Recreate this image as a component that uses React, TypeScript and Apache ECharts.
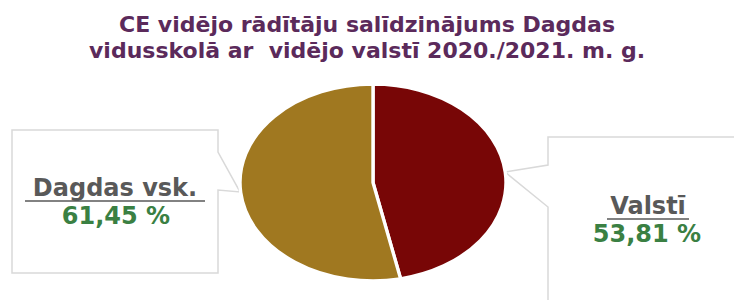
import React, { useEffect, useRef } from "react";
import * as echarts from "echarts";

const categories = ["Valstī", "Dagdas vsk."];
const values = [53.81, 61.45];
const sliceColors = ["#780606", "#A07820"];
const titleLines = [
  "CE vidējo rādītāju salīdzinājums Dagdas",
  "vidusskolā ar  vidējo valstī 2020./2021. m. g.",
];

const fmt = (v: number) => v.toFixed(2).replace(".", ",") + " %";

export default function App() {
  const ref = useRef<HTMLDivElement>(null);
  useEffect(() => {
    if (!ref.current) return;
    const chart = echarts.init(ref.current, undefined, { renderer: "svg" });
    const total = values.reduce((a, b) => a + b, 0);
    const cx = 373;
    const cy = 182.5;
    const ry = 98;
    const rx = 133;
    const font = "DejaVu Sans";
    chart.setOption({
      animation: false,
      backgroundColor: "#ffffff",
      title: {
        text: titleLines.join("\n"),
        left: "center",
        top: 6,
        textStyle: {
          color: "#5B2A5B",
          fontFamily: font,
          fontWeight: "bold",
          fontSize: 22,
          lineHeight: 26,
        },
      },
      graphic: [
        {
          type: "polygon",
          z: 1,
          shape: {
            points: [
              [12, 130], [218, 130], [218, 152], [240, 192], [218, 190], [218, 273], [12, 273],
            ],
          },
          style: { fill: "#ffffff", stroke: "#d9d9d9", lineWidth: 1.5 },
        },
        {
          type: "polygon",
          z: 1,
          shape: {
            points: [
              [548, 137], [740, 137], [740, 310], [548, 310], [548, 207], [505, 172], [548, 165],
            ],
          },
          style: { fill: "#ffffff", stroke: "#d9d9d9", lineWidth: 1.5 },
        },
        {
          type: "text",
          z: 5,
          x: 115,
          y: 188,
          style: {
            text: categories[1],
            fill: "#595959",
            font: `bold 24px "${font}"`,
            align: "center",
            verticalAlign: "middle",
          },
        },
        {
          type: "line",
          z: 5,
          shape: { x1: 25, y1: 201, x2: 205, y2: 201 },
          style: { stroke: "#595959", lineWidth: 1.5 },
        },
        {
          type: "text",
          z: 5,
          x: 116,
          y: 216,
          style: {
            text: fmt(values[1]),
            fill: "#3A8043",
            font: `bold 24px "${font}"`,
            align: "center",
            verticalAlign: "middle",
          },
        },
        {
          type: "text",
          z: 5,
          x: 648,
          y: 206,
          style: {
            text: categories[0],
            fill: "#595959",
            font: `bold 24px "${font}"`,
            align: "center",
            verticalAlign: "middle",
          },
        },
        {
          type: "line",
          z: 5,
          shape: { x1: 607, y1: 219, x2: 689, y2: 219 },
          style: { stroke: "#595959", lineWidth: 1.5 },
        },
        {
          type: "text",
          z: 5,
          x: 647,
          y: 234,
          style: {
            text: fmt(values[0]),
            fill: "#3A8043",
            font: `bold 24px "${font}"`,
            align: "center",
            verticalAlign: "middle",
          },
        },
      ],
      series: [
        {
          type: "custom",
          coordinateSystem: "none",
          z: 3,
          data: categories.map((c, i) => ({ name: c, value: [values[i]] })),
          renderItem: (params: any, api: any) => {
            const idx = params.dataIndex;
            let before = 0;
            for (let i = 0; i < idx; i++) before += values[i];
            const start = -Math.PI / 2 + (before / total) * Math.PI * 2;
            const end = start + (api.value(0) / total) * Math.PI * 2;
            return {
              type: "group",
              x: cx,
              y: cy,
              scaleX: rx / ry,
              scaleY: 1,
              children: [
                {
                  type: "sector",
                  shape: { cx: 0, cy: 0, r0: 0, r: ry, startAngle: start, endAngle: end, clockwise: true },
                  style: {
                    fill: sliceColors[idx],
                    stroke: "#ffffff",
                    lineWidth: 2.5,
                    strokeNoScale: true,
                  },
                },
              ],
            };
          },
        },
      ],
    });
    return () => chart.dispose();
  }, []);
  return (
    <div
      ref={ref}
      style={{ position: "fixed", left: 0, top: 0, width: 734, height: 300 }}
    />
  );
}
